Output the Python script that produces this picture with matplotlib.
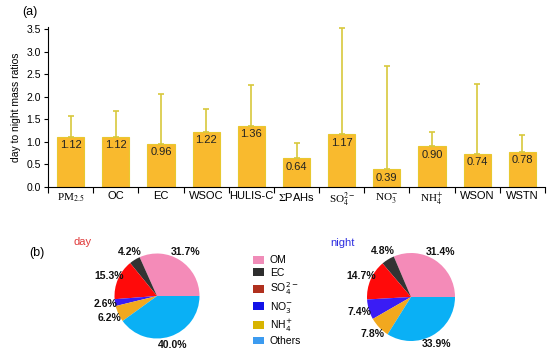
import matplotlib
matplotlib.use('Agg')
import matplotlib.pyplot as plt
import matplotlib.patches as mpatches
import numpy as np

plt.rcParams['font.family'] = ['Liberation Sans', 'DejaVu Sans']

# (a) day to night ratios
species = [r'PM$_{2.5}$', 'OC', 'EC', 'WSOC', 'HULIS-C', r'$\Sigma$PAHs',
           r'SO$_4^{2-}$', r'NO$_3^{-}$', r'NH$_4^{+}$', 'WSON', 'WSTN']
serif_labels = [True, False, False, False, False, False, True, True, True, False, False]
ratios = [1.12, 1.12, 0.96, 1.22, 1.36, 0.64, 1.17, 0.39, 0.90, 0.74, 0.78]
err_top = [1.57, 1.68, 2.06, 1.74, 2.27, 0.97, 3.52, 2.69, 1.23, 2.28, 1.15]

# (b) mass fractions (%)
comp_names = ['OM', 'EC', r'SO$_4^{2-}$', r'NO$_3^{-}$', r'NH$_4^{+}$', 'Others']
day_pct = [31.7, 4.2, 15.3, 2.6, 6.2, 40.0]
night_pct = [31.4, 4.8, 14.7, 7.4, 7.8, 33.9]

pie_colors = ['#F48BB8', '#333333', '#FF0A0A', '#3A1CF5', '#F2A81E', '#0AB0F5']
legend_colors = ['#F08CB8', '#2E2E2E', '#B0301E', '#1212E8', '#D8B400', '#3C9BF0']

W, H = 550, 353
fig = plt.figure(figsize=(W / 100, H / 100), dpi=100)

# ---- bar chart ----
ax = fig.add_axes([48 / W, 1 - 187 / H, 497 / W, 160 / H])
x = np.arange(len(species))
yerr = [np.zeros(len(ratios)), np.array(err_top) - np.array(ratios)]
ax.bar(x, ratios, width=0.6, color='#F9BA2E', edgecolor='#E8C830', linewidth=0.8,
       yerr=yerr, error_kw=dict(ecolor='#D8C83C', elinewidth=1.2, capsize=2.5, capthick=1.2))
for xi, v in zip(x, ratios):
    ax.annotate(f'{v:.2f}', (xi, v), xytext=(0, -2.5), textcoords='offset points',
                ha='center', va='top', fontsize=8, color='#222222')

ax.set_xlim(-0.5, len(species) - 0.5)
ax.set_ylim(0, 3.55)
ax.set_yticks(np.arange(0, 3.51, 0.5))
ax.set_yticklabels([f'{t:.1f}' for t in np.arange(0, 3.51, 0.5)], fontsize=7.5)
ax.set_xticks(x)
ax.set_xticklabels(species, fontsize=8)
ax.set_xticks(np.arange(-0.5, len(species)), minor=True)
ax.tick_params(axis='x', which='major', length=0, pad=3)
ax.tick_params(axis='x', which='minor', length=4, width=0.8, direction='out')
ax.tick_params(axis='y', length=3, width=0.8, pad=2)
for lab, ser in zip(ax.get_xticklabels(), serif_labels):
    lab.set_math_fontfamily('stix')
    if ser:
        lab.set_fontfamily('Liberation Serif')
ax.spines['top'].set_visible(False)
ax.spines['right'].set_visible(False)
ax.set_ylabel('day to night mass ratios', fontsize=7.5, labelpad=4)
fig.text(30 / W, 1 - 12 / H, '(a)', fontsize=9, ha='center', va='center')

# ---- pies ----
def draw_pie(cx, cy, r, vals, title, tcolor, tx, ty):
    half = 1.25 * r
    pax = fig.add_axes([(cx - half) / W, 1 - (cy + half) / H, 2 * half / W, 2 * half / H])
    pax.pie(vals, colors=pie_colors, startangle=0, counterclock=True,
            autopct='%.1f%%', pctdistance=1.22,
            wedgeprops=dict(linewidth=0),
            textprops=dict(fontsize=7.5, fontweight='bold', color='#111111'))
    pax.set_aspect('equal')
    fig.text(tx / W, 1 - ty / H, title, color=tcolor, fontsize=8, ha='center', va='center')

draw_pie(157, 296, 42.5, day_pct, 'day', '#E03A3A', 83, 242)
draw_pie(411, 297, 44, night_pct, 'night', '#2E2EE0', 342, 243)
fig.text(37 / W, 1 - 253 / H, '(b)', fontsize=9, ha='center', va='center')

handles = [mpatches.Patch(facecolor=c, edgecolor='none') for c in legend_colors]
leg = fig.legend(handles, comp_names, loc='upper left', bbox_to_anchor=(248 / W, 1 - 250 / H),
                 frameon=False, fontsize=7.5, handlelength=1.0, handleheight=0.8,
                 handletextpad=0.6, labelspacing=0.25, borderpad=0)

fig.savefig('out.png', dpi=100)
